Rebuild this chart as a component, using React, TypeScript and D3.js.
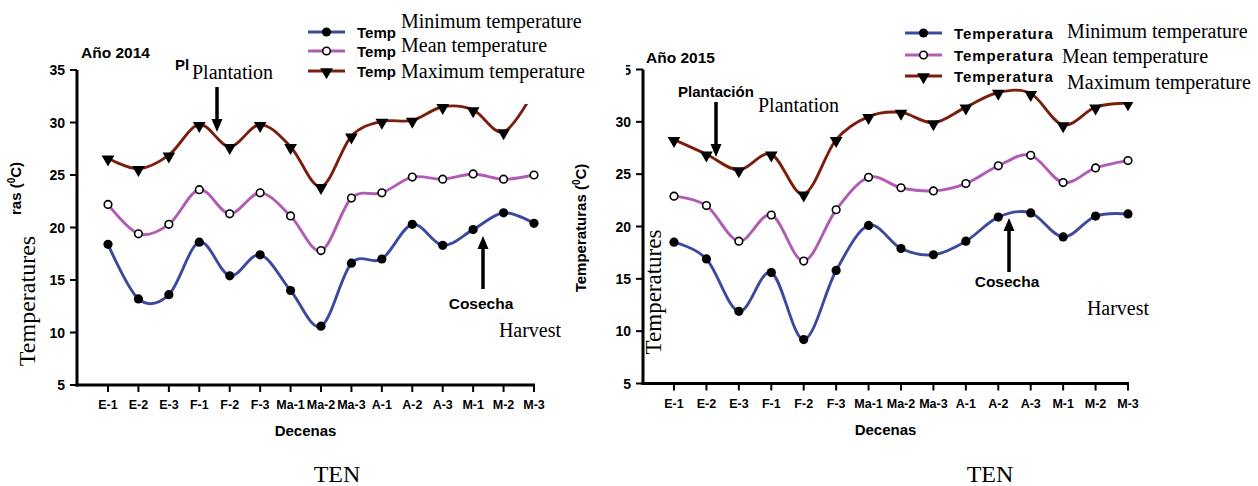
import * as d3 from 'd3'

const categories = ['E-1', 'E-2', 'E-3', 'F-1', 'F-2', 'F-3', 'Ma-1', 'Ma-2', 'Ma-3', 'A-1', 'A-2', 'A-3', 'M-1', 'M-2', 'M-3']
const yTicks = [5, 10, 15, 20, 25, 30, 35]

const min2014 = [18.4, 13.2, 13.6, 18.6, 15.4, 17.4, 14.0, 10.6, 16.6, 17.0, 20.3, 18.3, 19.8, 21.4, 20.4]
const mean2014 = [22.2, 19.4, 20.3, 23.6, 21.3, 23.3, 21.1, 17.8, 22.8, 23.3, 24.8, 24.6, 25.1, 24.6, 25.0]
const max2014 = [26.6, 25.6, 26.9, 29.8, 27.7, 29.8, 27.7, 23.9, 28.7, 30.1, 30.2, 31.5, 31.2, 29.1, 33.0]

const min2015 = [18.5, 16.9, 11.9, 15.6, 9.2, 15.8, 20.1, 17.9, 17.3, 18.6, 20.9, 21.3, 19.0, 21.0, 21.2]
const mean2015 = [22.9, 22.0, 18.6, 21.1, 16.7, 21.6, 24.7, 23.7, 23.4, 24.1, 25.8, 26.8, 24.2, 25.6, 26.3]
const max2015 = [28.3, 26.9, 25.4, 26.9, 23.1, 28.3, 30.5, 30.9, 29.9, 31.4, 32.8, 32.7, 29.7, 31.4, 31.8]

// only the parts of the original legend that are not covered by the translation
const legend2014 = ['Temp', 'Temp', 'Temp']
const legend2015 = ['Temperatura', 'Temperatura', 'Temperatura']
const legendEn = ['Minimum temperature', 'Mean temperature', 'Maximum temperature']

const BLUE = '#3c4a9e'
const PURPLE = '#b05cb4'
const RED = '#7a1e0e'
const SANS = 'Liberation Sans, Arial, sans-serif'
const SERIF = 'Liberation Serif, Times New Roman, serif'

const triangle = d3.symbol().type(d3.symbolTriangle).size(70)()

function Marker({ kind, x, y }: { kind: string; x: number; y: number }) {
  if (kind === 'min') return <circle cx={x} cy={y} r={4.6} fill="#000" />
  if (kind === 'mean') return <circle cx={x} cy={y} r={3.8} fill="#fff" stroke="#000" strokeWidth={1.6} />
  return <path d={triangle!} transform={`translate(${x},${y + 1}) rotate(180)`} fill="#000" />
}

function Arrow({ x, y1, y2 }: { x: number; y1: number; y2: number }) {
  // from y1 (tail) to y2 (tip)
  const dir = y2 > y1 ? 1 : -1
  const head = 13
  return (
    <g>
      <line x1={x} x2={x} y1={y1} y2={y2 - dir * head} stroke="#000" strokeWidth={3.5} />
      <path d={`M${x - 5.5},${y2 - dir * head} L${x + 5.5},${y2 - dir * head} L${x},${y2} Z`} fill="#000" />
    </g>
  )
}

interface PanelProps {
  axisX: number
  x0: number
  x1: number
  yTop: number
  yBottom: number
  series: number[][]
  year: string
  yearX: number
  yearY: number
  legendX: number
  legendY: number[]
  legendText: string[]
  legendSpacing: number
}

function Panel(p: PanelProps) {
  const x = d3.scalePoint<string>().domain(categories).range([p.x0, p.x1])
  const y = d3.scaleLinear().domain([5, 35]).range([p.yBottom, p.yTop])
  const line = d3
    .line<number>()
    .x((_, i) => x(categories[i])!)
    .y((d) => y(d))
    .curve(d3.curveCardinal.tension(0))
  const colors = [BLUE, PURPLE, RED]
  const kinds = ['min', 'mean', 'max']
  const mid = (p.axisX + p.x1) / 2

  return (
    <g>
      {p.series.map((s, k) => (
        <path key={k} d={line(s)!} fill="none" stroke={colors[k]} strokeWidth={2.9} />
      ))}
      {p.series.map((s, k) =>
        s.map((v, i) => <Marker key={`${k}-${i}`} kind={kinds[k]} x={x(categories[i])!} y={y(v)} />)
      )}

      <line x1={p.axisX} x2={p.axisX} y1={p.yTop} y2={p.yBottom + 1.5} stroke="#000" strokeWidth={3} />
      <line x1={p.axisX - 1.5} x2={p.x1 + 1} y1={p.yBottom} y2={p.yBottom} stroke="#000" strokeWidth={3} />
      {yTicks.map((t) => (
        <g key={t}>
          <line x1={p.axisX - 7} x2={p.axisX} y1={y(t)} y2={y(t)} stroke="#000" strokeWidth={2} />
          <text x={p.axisX - 12} y={y(t) + 5} textAnchor="end" fontFamily={SANS} fontWeight="bold" fontSize={14}>
            {t}
          </text>
        </g>
      ))}
      {categories.map((c) => (
        <g key={c}>
          <line x1={x(c)} x2={x(c)} y1={p.yBottom} y2={p.yBottom + 7} stroke="#000" strokeWidth={2} />
          <text x={x(c)} y={p.yBottom + 24} textAnchor="middle" fontFamily={SANS} fontWeight="bold" fontSize={12.5}>
            {c}
          </text>
        </g>
      ))}
      <text x={mid} y={p.yBottom + 51} textAnchor="middle" fontFamily={SANS} fontWeight="bold" fontSize={15}>
        Decenas
      </text>
      <text x={p.yearX} y={p.yearY} fontFamily={SANS} fontWeight="bold" fontSize={15.5}>
        {p.year}
      </text>

      {p.legendText.map((t, k) => (
        <g key={k}>
          <line
            x1={p.legendX}
            x2={p.legendX + 37}
            y1={p.legendY[k]}
            y2={p.legendY[k]}
            stroke={colors[k]}
            strokeWidth={3}
          />
          <Marker kind={kinds[k]} x={p.legendX + 18.5} y={p.legendY[k]} />
          <text
            x={p.legendX + 49}
            y={p.legendY[k] + 5.5}
            fontFamily={SANS}
            fontWeight="bold"
            fontSize={15}
            letterSpacing={p.legendSpacing}
          >
            {t}
          </text>
        </g>
      ))}
    </g>
  )
}

function Overlay({ x, y, w, h }: { x: number; y: number; w: number; h: number }) {
  return <rect x={x} y={y} width={w} height={h} fill="#fff" />
}

function EnText({ x, y, t, size = 20, anchor = 'start' }: { x: number; y: number; t: string; size?: number; anchor?: string }) {
  return (
    <text x={x} y={y} fontFamily={SERIF} fontSize={size} textAnchor={anchor}>
      {t}
    </text>
  )
}

export default function App() {
  return (
    <svg width={1258} height={486} style={{ position: 'absolute', left: 0, top: 0, background: '#fff' }}>
      <rect width={1258} height={486} fill="#fff" />

      <Panel
        axisX={77}
        x0={108}
        x1={534}
        yTop={70}
        yBottom={385}
        series={[min2014, mean2014, max2014]}
        year="Año 2014"
        yearX={81}
        yearY={58}
        legendX={308}
        legendY={[32, 51, 71]}
        legendText={legend2014}
        legendSpacing={0}
      />
      <Panel
        axisX={643}
        x0={674}
        x1={1128}
        yTop={69.5}
        yBottom={383.5}
        series={[min2015, mean2015, max2015]}
        year="Año 2015"
        yearX={646}
        yearY={63}
        legendX={905}
        legendY={[33, 55, 76]}
        legendText={legend2015}
        legendSpacing={0.9}
      />

      {/* original y-axis titles (left one mostly covered by the translation) */}
      <text transform="translate(21,215) rotate(-90)" fontFamily={SANS} fontWeight="bold" fontSize={15}>
        ras (<tspan fontSize={10} dy={-6}>0</tspan>
        <tspan dy={6}>C)</tspan>
      </text>
      <text transform="translate(586,228) rotate(-90)" textAnchor="middle" fontFamily={SANS} fontWeight="bold" fontSize={15}>
        Temperaturas (<tspan fontSize={10} dy={-6}>0</tspan>
        <tspan dy={6}>C)</tspan>
      </text>

      {/* left annotations */}
      <text x={175} y={70} fontFamily={SANS} fontWeight="bold" fontSize={15}>
        Pl
      </text>
      <EnText x={192} y={79} t="Plantation" />
      <Arrow x={217} y1={87} y2={132} />

      <Arrow x={483} y1={289} y2={236} />
      <text x={481} y={309} textAnchor="middle" fontFamily={SANS} fontWeight="bold" fontSize={15.5}>
        Cosecha
      </text>
      <EnText x={530} y={337} t="Harvest" anchor="middle" />

      {/* right annotations */}
      <text x={678} y={97} fontFamily={SANS} fontWeight="bold" fontSize={15}>
        Plantación
      </text>
      <EnText x={758} y={112} t="Plantation" />
      <Arrow x={716} y1={102} y2={157} />

      <Arrow x={1009} y1={272} y2={218} />
      <text x={1007} y={287} textAnchor="middle" fontFamily={SANS} fontWeight="bold" fontSize={15.5}>
        Cosecha
      </text>
      <EnText x={1118} y={315} t="Harvest" anchor="middle" />

      {/* legend translations on white patches */}
      <Overlay x={398} y={6} w={228} h={98} />
      {legendEn.map((t, k) => (
        <EnText key={t} x={401} y={[28, 52, 78][k]} t={t} />
      ))}
      <Overlay x={1058} y={14} w={200} h={88} />
      {legendEn.map((t, k) => (
        <EnText key={t} x={k === 1 ? 1062 : 1067} y={[38, 63, 89][k]} t={t} />
      ))}

      {/* axis title translations */}
      <text transform="translate(35,301) rotate(-90)" textAnchor="middle" fontFamily={SERIF} fontSize={24}>
        Temperatures
      </text>
      <Overlay x={645} y={220} w={20} h={145} />
      <text transform="translate(661,292) rotate(-90)" textAnchor="middle" fontFamily={SERIF} fontSize={23}>
        Temperatures
      </text>

      <EnText x={337} y={482} t="TEN" size={24} anchor="middle" />
      <EnText x={990} y={482} t="TEN" size={24} anchor="middle" />
    </svg>
  )
}
